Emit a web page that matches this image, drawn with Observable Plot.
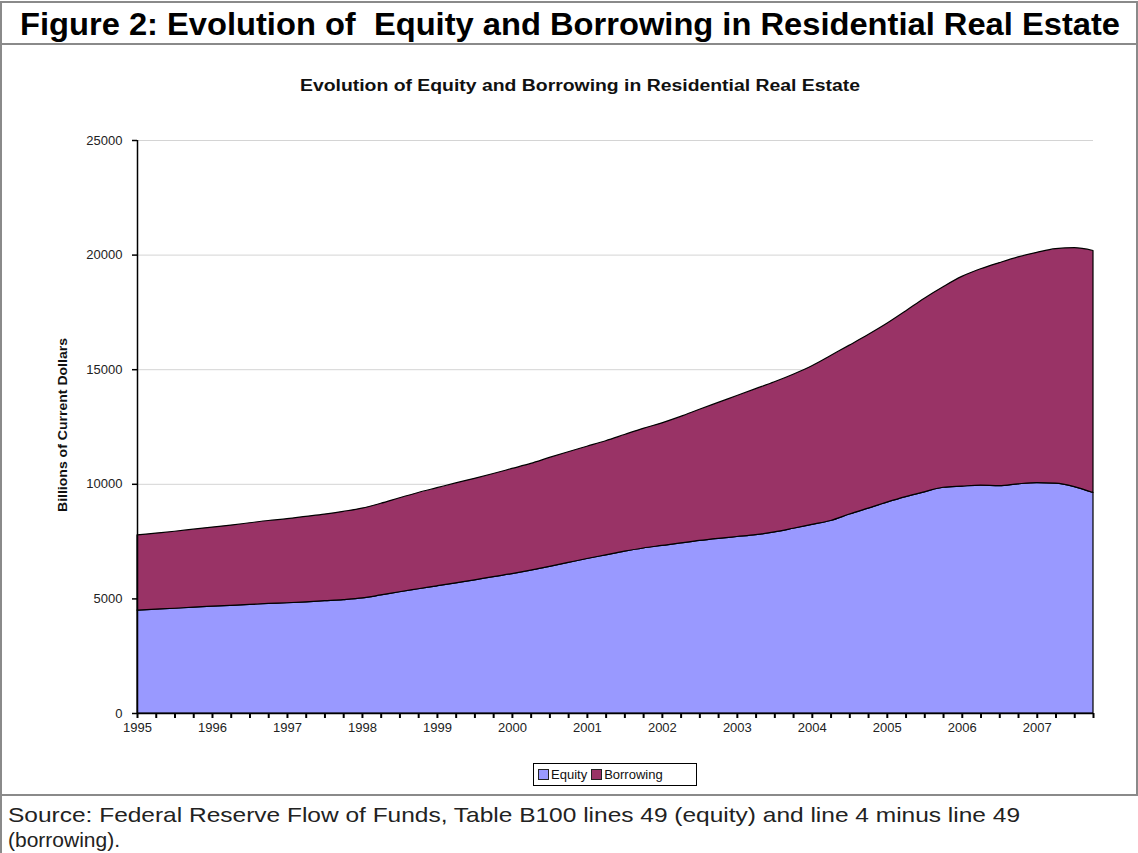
<!DOCTYPE html>
<html><head><meta charset="utf-8">
<script src="https://cdn.jsdelivr.net/npm/d3@7"></script>
<script src="https://cdn.jsdelivr.net/npm/@observablehq/plot@0.6"></script>
<style>
body{margin:0;background:#fff;font-family:"Liberation Sans",Arial,sans-serif;}
#page{position:relative;width:1138px;height:853px;overflow:hidden;background:#fff;}
.hl{position:absolute;left:0;width:1138px;height:2px;background:#8a8a8a;}
.vl{position:absolute;top:1px;width:2px;background:#8a8a8a;}
#chart{position:absolute;left:0;top:100px;}
#ylab{position:absolute;left:62px;top:425px;transform:translate(-50%,-50%) rotate(-90deg) scaleX(1.08);font-weight:bold;font-size:13px;white-space:nowrap;color:#111;}
#legend{position:absolute;left:533px;top:763px;width:164px;height:23px;border:1.5px solid #000;box-sizing:border-box;display:flex;align-items:center;font-size:13px;color:#111;padding-left:4px;}
.sw{display:inline-block;width:9px;height:9px;border:1px solid #222;margin-right:2px;}
.it{display:flex;align-items:center;margin-right:4px;}
svg.txt{position:absolute;left:0;overflow:visible;}
svg.txt text{white-space:pre;}
</style>
</head><body>
<div id="page">
  <div class="hl" style="top:1px"></div>
  <div class="hl" style="top:43px"></div>
  <div class="hl" style="top:794px"></div>
  <div class="vl" style="left:0px;height:852px"></div>
  <div class="vl" style="left:1136px;height:795px"></div>
  <svg class="txt" width="1138" height="853" style="top:0">
    <text id="title" x="20" y="35" font-size="31" font-weight="bold" fill="#000" textLength="1100" lengthAdjust="spacingAndGlyphs" font-family="Liberation Sans, Arial, sans-serif" xml:space="preserve"></text>
    <text id="subtitle" x="300" y="91" font-size="16" font-weight="bold" fill="#111" textLength="560" lengthAdjust="spacingAndGlyphs" font-family="Liberation Sans, Arial, sans-serif"></text>
    <text id="src1" x="8" y="822" font-size="21" fill="#222" textLength="1012" lengthAdjust="spacingAndGlyphs" font-family="Liberation Sans, Arial, sans-serif"></text>
    <text id="src2" x="8" y="847" font-size="21" fill="#222" font-family="Liberation Sans, Arial, sans-serif"></text>
  </svg>
  <div id="chart"></div>
  <div id="ylab"></div>
  <div id="legend"></div>
</div>
<script>
const titleText = "Figure 2: Evolution of  Equity and Borrowing in Residential Real Estate";
const subtitleText = "Evolution of Equity and Borrowing in Residential Real Estate";
const yLabel = "Billions of Current Dollars";
const sourceLines = ["Source: Federal Reserve Flow of Funds, Table B100 lines 49 (equity) and line 4 minus line 49", "(borrowing)."];
const seriesNames = ["Equity", "Borrowing"];
const seriesColors = ["#9999ff", "#993366"];
const yearLabels = ["1995","1996","1997","1998","1999","2000","2001","2002","2003","2004","2005","2006","2007"];
const yTicks = [0, 5000, 10000, 15000, 20000, 25000];
// quarterly values, 1995Q1 .. 2007Q4 (billions of current dollars)
const equity = [4490,4530,4570,4620,4660,4700,4740,4780,4810,4850,4900,4950,5020,5150,5290,5420,5550,5680,5810,5950,6080,6230,6400,6570,6740,6900,7060,7200,7310,7420,7530,7620,7700,7780,7900,8060,8230,8400,8680,8940,9200,9440,9650,9850,9900,9940,9920,10000,10050,10030,9880,9620];
const borrowing = [3280,3320,3360,3400,3450,3500,3560,3620,3670,3730,3780,3850,3920,4000,4100,4200,4280,4360,4430,4500,4590,4660,4750,4830,4900,4980,5090,5220,5350,5520,5720,5930,6150,6370,6550,6720,6920,7200,7370,7570,7800,8100,8450,8750,9150,9440,9730,9900,10050,10230,10420,10560];

document.getElementById("title").textContent = titleText;
document.getElementById("subtitle").textContent = subtitleText;
document.getElementById("src1").textContent = sourceLines[0];
document.getElementById("src2").textContent = sourceLines[1];
document.getElementById("ylab").textContent = yLabel;

const rows = [];
equity.forEach((v, i) => rows.push({i, series: seriesNames[0], value: v}));
borrowing.forEach((v, i) => rows.push({i, series: seriesNames[1], value: v}));
const n = equity.length;

const chart = Plot.plot({
  width: 1138, height: 650,
  marginLeft: 137, marginRight: 45, marginTop: 40, marginBottom: 37,
  x: {domain: [0, n - 1]},
  y: {domain: [0, 25000]},
  color: {domain: seriesNames, range: seriesColors},
  style: {fontFamily: "Liberation Sans, Arial, sans-serif", fontSize: "13px", color: "#222", background: "transparent"},
  marks: [
    Plot.gridY(yTicks.filter(d => d > 0), {stroke: "#d4d4d4", strokeOpacity: 1}),
    Plot.areaY(rows, Plot.stackY({x: "i", y: "value", z: "series", fill: "series", order: seriesNames, stroke: "#000", strokeWidth: 1.2, strokeLinejoin: "round", curve: "monotone-x"})),
    Plot.ruleY([0], {stroke: "#000", strokeWidth: 1.5}),
    Plot.ruleX([0], {stroke: "#000", strokeWidth: 1.5}),
    Plot.axisX({ticks: d3.range(n), tickFormat: i => i % 4 === 0 ? yearLabels[i / 4] : "", tickSize: 5, tickPadding: 4, stroke: "#000", strokeWidth: 2, fontSize: 13, label: null}),
    Plot.axisY({ticks: yTicks, tickFormat: d => String(d), tickSize: 5, tickPadding: 10, stroke: "#000", strokeWidth: 1.5, fontSize: 13, label: null})
  ]
});
document.getElementById("chart").appendChild(chart);

const legend = document.getElementById("legend");
seriesNames.forEach((s, k) => {
  const it = document.createElement("span");
  it.className = "it";
  const sw = document.createElement("span");
  sw.className = "sw";
  sw.style.background = seriesColors[k];
  it.appendChild(sw);
  it.appendChild(document.createTextNode(s));
  legend.appendChild(it);
});
</script>
</body></html>
